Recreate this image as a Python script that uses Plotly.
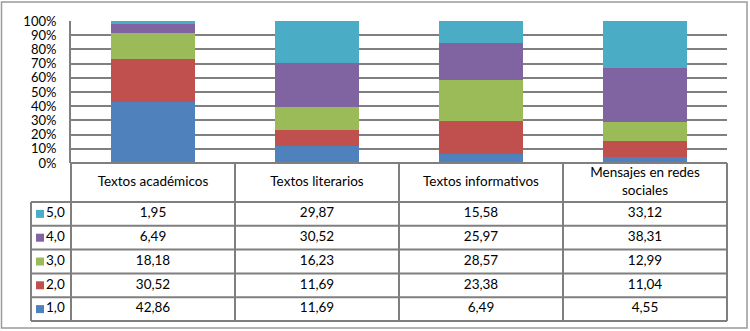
import plotly.graph_objects as go

# ---------------- data ----------------
categories = ["Textos académicos", "Textos literarios", "Textos informativos", "Mensajes en redes sociales"]
header_labels = ["Textos académicos", "Textos literarios", "Textos informativos", "Mensajes en redes<br>sociales"]
series_names = ["1,0", "2,0", "3,0", "4,0", "5,0"]
s_1 = [42.86, 11.69, 6.49, 4.55]
s_2 = [30.52, 11.69, 23.38, 11.04]
s_3 = [18.18, 16.23, 28.57, 12.99]
s_4 = [6.49, 30.52, 25.97, 38.31]
s_5 = [1.95, 29.87, 15.58, 33.12]
series_values = [s_1, s_2, s_3, s_4, s_5]
colors = ["#4F81BD", "#C0504D", "#9BBB59", "#8064A2", "#4BACC6"]
y_tick_vals = [0, 10, 20, 30, 40, 50, 60, 70, 80, 90, 100]
y_tick_text = [f"{v}%" for v in y_tick_vals]

# ---------------- layout constants (pixels) ----------------
W, H = 750, 331
plot_left, plot_right = 71, 727
bars_top, bars_bottom = 21, 163
table_bottom = 321
legend_left = 31
header_h = 39.0
n_rows = len(series_names)
row_h = (table_bottom - bars_bottom - header_h) / n_rows
cat_w = (plot_right - plot_left) / len(categories)
pad_px = 4

def px_x(p):
    return p / W

def px_y(p):
    return 1 - p / H

FONT = "Lato"
FS = 13.5
LINE = "#7f7f7f"
n_cat = len(categories)
xi = list(range(n_cat))

fig = go.Figure()

# stacked bars
for name, vals, col in zip(series_names, series_values, colors):
    fig.add_trace(go.Bar(x=xi, y=vals, name=name, marker=dict(color=col, line=dict(width=0)),
                         xaxis="x", yaxis="y", showlegend=False))

# table geometry in table-axis units
legend_w_u = (plot_left - legend_left) / cat_w
pad_xu = pad_px / cat_w
pad_yu = pad_px / row_h
header_u = header_h / row_h
header_top_u = n_rows - 0.5 + header_u
x2_range = [-0.5 - legend_w_u - pad_xu, n_cat - 0.5 + pad_xu]
y2_range = [-0.5 - pad_yu, header_top_u + pad_yu]

# table values
for i, vals in enumerate(series_values):
    fig.add_trace(go.Scatter(
        x=xi, y=[i] * n_cat, mode="text",
        text=[f"{v:.2f}".replace(".", ",") for v in vals],
        textfont=dict(family=FONT, size=FS, color="#000000"),
        xaxis="x2", yaxis="y2", showlegend=False, hoverinfo="skip"))

# header
fig.add_trace(go.Scatter(
    x=xi, y=[n_rows - 0.5 + header_u / 2] * n_cat, mode="text", text=header_labels,
    textfont=dict(family=FONT, size=FS, color="#000000"),
    xaxis="x2", yaxis="y2", showlegend=False, hoverinfo="skip"))

# legend keys column
key_x = -0.5 - legend_w_u + 9 / cat_w
fig.add_trace(go.Scatter(
    x=[key_x] * n_rows, y=list(range(n_rows)), mode="markers+text",
    marker=dict(symbol="square", size=8, color=colors, line=dict(width=0)),
    text=series_names, textposition="middle right",
    textfont=dict(family=FONT, size=FS, color="#000000"),
    xaxis="x2", yaxis="y2", showlegend=False, hoverinfo="skip"))

shapes = []
# horizontal table lines
left_edge = -0.5 - legend_w_u
for k in range(n_rows + 1):
    yv = k - 0.5
    shapes.append(dict(type="line", xref="x2", yref="y2", x0=left_edge, x1=n_cat - 0.5,
                       y0=yv, y1=yv, line=dict(color=LINE, width=2)))
shapes.append(dict(type="line", xref="x2", yref="y2", x0=-0.5, x1=n_cat - 0.5,
                   y0=header_top_u, y1=header_top_u, line=dict(color=LINE, width=2)))
# vertical table lines
for k in range(n_cat + 1):
    xv = k - 0.5
    shapes.append(dict(type="line", xref="x2", yref="y2", x0=xv, x1=xv,
                       y0=-0.5, y1=header_top_u, line=dict(color=LINE, width=2)))
shapes.append(dict(type="line", xref="x2", yref="y2", x0=left_edge, x1=left_edge,
                   y0=-0.5, y1=n_rows - 0.5, line=dict(color=LINE, width=2)))
# outer chart border
shapes.append(dict(type="rect", xref="paper", yref="paper", x0=px_x(1.5), x1=px_x(747),
                   y0=px_y(328), y1=px_y(2), line=dict(color="#9a9a9a", width=1.5),
                   fillcolor="rgba(0,0,0,0)"))

fig.update_layout(
    width=W, height=H, autosize=False,
    margin=dict(l=0, r=0, t=0, b=0, pad=0, autoexpand=False),
    paper_bgcolor="white", plot_bgcolor="rgba(0,0,0,0)",
    barmode="stack", bargap=1 - 84 / cat_w,
    font=dict(family=FONT, size=FS, color="#000000"),
    xaxis=dict(domain=[px_x(plot_left), px_x(plot_right)], range=[-0.5, n_cat - 0.5],
               showticklabels=False, showgrid=False, zeroline=False, showline=False,
               fixedrange=True, automargin=False),
    yaxis=dict(domain=[px_y(bars_bottom), px_y(bars_top)], range=[0, 100],
               tickmode="array", tickvals=y_tick_vals, ticktext=y_tick_text,
               showgrid=True, gridcolor=LINE,
               gridwidth=2, zeroline=False, showline=True, linecolor=LINE, linewidth=2,
               ticks="outside", ticklen=10, tickcolor="rgba(0,0,0,0)", automargin=False,
               tickfont=dict(family=FONT, size=13, color="#000000")),
    xaxis2=dict(domain=[px_x(legend_left - pad_px), px_x(plot_right + pad_px)],
                range=x2_range, visible=False, anchor="y2", automargin=False),
    yaxis2=dict(domain=[px_y(table_bottom + pad_px), px_y(bars_bottom - pad_px)],
                range=y2_range, visible=False, anchor="x2", automargin=False),
    shapes=shapes,
)

fig.write_html("out.html", config={"displayModeBar": False},
               post_script="document.body.style.margin='0';document.body.style.overflow='hidden';")
